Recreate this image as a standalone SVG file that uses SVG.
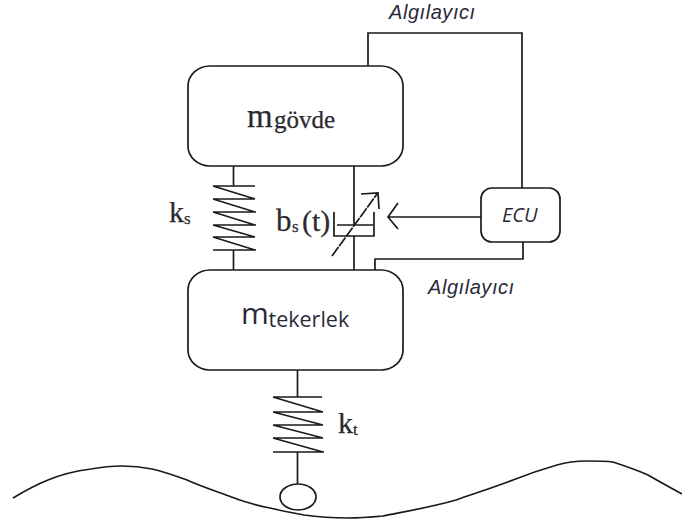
<svg xmlns="http://www.w3.org/2000/svg" width="682" height="523" viewBox="0 0 682 523">
<style>
.l{fill:none;stroke:#1a1a1a;stroke-width:1.7}
.b{fill:#fff;stroke:#1a1a1a;stroke-width:1.7}
.s{font-family:"Liberation Serif",serif;fill:#2b2a30;stroke:#2b2a30;stroke-width:.25}
.c{font-family:"Open Sans","Liberation Sans",sans-serif;font-style:italic;fill:#2a2a3a}
.a{font-family:"Liberation Sans",sans-serif;font-style:italic;fill:#2a2a3a;letter-spacing:.55px}
.u{font-family:"Open Sans","Liberation Sans",sans-serif;fill:#2a2a3a}
</style>
<rect width="682" height="523" fill="#fff"/>
<g id="connectors">
<path class="l" d="M368 66V33H522V188"/>
<path class="l" d="M523 242V259H375V270"/>
<path class="l" d="M481 217H388M398 203L388 217L398 229"/>
</g>
<g id="mgovde">
<rect class="b" x="188" y="66" width="215" height="100" rx="22" ry="20"/>
<text class="s" x="247" y="127" font-size="33">m</text>
<text class="s" x="274" y="128" font-size="25">gövde</text>
</g>
<g id="mtekerlek">
<rect class="b" x="188" y="270" width="215" height="100" rx="22" ry="20"/>
<text class="u" x="241" y="324" font-size="30">m</text>
<text class="u" x="268.500" y="327" font-size="21.500">tekerlek</text>
</g>
<g id="spring-ks">
<path class="l" d="M233.500 166V186M233.500 250V270M213 186H255M213 199H255M213 212H256M213 225H256M213 237H255M213 250H256M213 186L255 199M213 199L255 212M213 212L255 225M213 225L255 237M213 237L255 250"/>
<text class="s" x="169" y="222" font-size="30">k</text>
<text class="s" x="184" y="224" font-size="17">s</text>
</g>
<g id="damper-bs">
<path class="l" d="M354 166V225M354 236V270M334 212V236H374V212M337 225H373"/>
<path class="l" stroke-dasharray="11 1" d="M332 256L377 194"/>
<path class="l" d="M361 194L378 193L379 209"/>
<text class="s" x="276" y="231" font-size="31">b</text>
<text class="s" x="292" y="232" font-size="17">s</text>
<text class="s" x="302" y="231" font-size="30">(t)</text>
</g>
<g id="ecu">
<rect class="b" x="481" y="188" width="79" height="54" rx="11" ry="11"/>
<text class="c" x="502" y="222" font-size="20">ECU</text>
</g>
<g id="sensor-top"><text class="a" x="389" y="19" font-size="20">Algılayıcı</text></g>
<g id="sensor-bottom"><text class="a" x="428" y="294" font-size="20">Algılayıcı</text></g>
<g id="spring-kt">
<path class="l" d="M297.500 370V397M297.500 452V484M273 397H322M273 412H323M273 425H323M273 438H323M273 452H324M273 397L323 412M273 412L323 425M273 425L323 438M273 438L323 452"/>
<text class="s" x="338" y="433" font-size="30">k</text>
<text class="s" x="353" y="435" font-size="17">t</text>
</g>
<g id="road">
<ellipse class="l" cx="298" cy="497" rx="18" ry="13"/>
<path class="l" d="M13 498C28 489 38 484 48 480C60 475 75 471 91 469C102 467 112 466 122 466C132 466 142 467 152 469C165 472 176 476 187 480C200 486 213 490 226 495C241 501 255 505 270 508C282 511 293 513 304 515C318 517 333 518 348 518C360 518 372 517 383 516C408 511 432 507 456 500C476 493 495 487 513 480C528 474 543 469 557 465C567 462 577 461 587 461C596 461 605 461 613 462C625 466 637 470 648 475C660 482 671 488 682 494"/>
</g>
</svg>
